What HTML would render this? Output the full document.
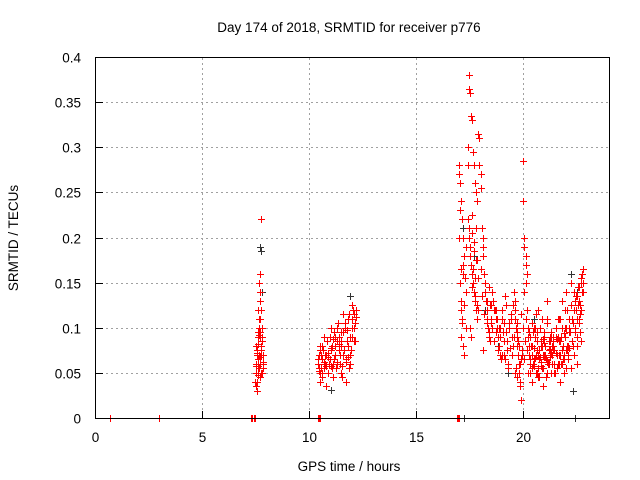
<!DOCTYPE html>
<html><head><meta charset="utf-8"><style>
body{margin:0;background:#fff}
svg{display:block;font-family:"Liberation Sans",sans-serif}
#redpts path,#blackpts path{shape-rendering:crispEdges}
</style></head><body>
<svg id="chart" width="640" height="480" viewBox="0 0 640 480" xmlns="http://www.w3.org/2000/svg">
<rect width="640" height="480" fill="#fff"/>
<text x="349" y="32" font-size="13.5" text-anchor="middle">Day 174 of 2018, SRMTID for receiver p776</text>
<text x="349" y="471" font-size="13.5" text-anchor="middle">GPS time / hours</text>
<text transform="translate(18,238) rotate(-90)" font-size="13.5" text-anchor="middle">SRMTID / TECUs</text>
<g id="grid"></g>
<g id="ticks"></g>
<g id="blackpts"></g>
<g id="redpts"></g>
<rect x="95.5" y="57.5" width="514" height="361" fill="none" stroke="#000" stroke-width="1"/>
</svg>
<script>
const xTicks=[0,5,10,15,20];
const yTicks=[0,0.05,0.1,0.15,0.2,0.25,0.3,0.35,0.4];
const yTickLabels=["0","0.05","0.1","0.15","0.2","0.25","0.3","0.35","0.4"];
const zeroT=[0.7,3.0,7.3,7.35,7.4,7.45,10.4,10.45,10.5,16.9,16.95,17.0];
const blackT=[7.7,7.75,7.8,10.5,11.0,11.9,17.2,17.7,18.2,18.8,19.3,20.5,21.6,22.2,22.3,22.5,17.25,22.4];
const blackV=[0.19,0.185,0.14,0.08,0.031,0.135,0.21,0.18,0.12,0.08,0.05,0.11,0.06,0.16,0.03,0.14,0,0];
const redT=[
7.45,7.5,7.5,7.55,7.6,7.6,7.65,7.7,7.7,7.75,7.8,7.8,7.85,7.5,7.55,7.6,7.65,7.7,7.75,7.8,7.85,7.7,7.75,7.65,7.7,7.6,7.8,7.72,7.68,7.58,7.62,7.66,7.74,7.55,
10.4,10.45,10.5,10.5,10.55,10.6,10.6,10.65,10.7,10.75,10.8,10.85,10.9,10.95,11.0,11.0,11.05,11.1,11.15,11.2,11.2,11.25,11.3,11.35,11.4,11.45,11.5,11.5,11.55,11.6,11.65,11.7,11.75,11.8,11.85,11.9,11.95,12.0,12.05,12.1,12.15,12.2,10.5,10.7,10.9,11.1,11.3,11.5,11.7,11.9,12.1,10.6,10.8,11.0,11.4,11.8,12.0,11.6,11.2,10.45,10.55,
17.0,17.0,17.05,17.05,17.1,17.1,17.1,17.15,17.15,17.2,17.2,17.25,17.25,17.3,17.3,17.0,17.1,17.2,17.3,
17.4,17.45,17.45,17.5,17.5,17.55,17.55,17.6,17.6,17.65,17.65,17.7,17.7,17.75,17.75,17.8,17.8,17.85,17.85,17.4,17.5,17.6,17.7,17.8,17.9,17.45,17.55,17.65,17.75,17.85,
17.9,17.95,17.95,18.0,18.0,18.05,18.1,18.1,18.15,18.2,18.2,18.25,18.3,18.3,18.35,18.4,18.4,18.45,18.5,18.5,18.1,
18.55,18.6,18.65,18.7,18.75,18.8,18.85,18.9,18.95,19.0,19.05,19.1,19.15,19.2,19.25,19.3,19.35,19.4,19.45,19.5,18.7,18.9,19.1,19.3,
19.55,19.6,19.6,19.65,19.7,19.7,19.75,19.8,19.8,19.85,19.85,19.9,19.6,19.7,19.75,19.9,19.95,19.65,
20.0,20.0,20.05,20.05,20.1,20.1,20.15,20.1,20.05,20.15,20.2,20.2,20.25,20.25,20.3,20.3,
20.35,20.4,20.45,20.5,20.55,20.6,20.65,20.7,20.75,20.8,20.85,20.9,20.95,21.0,21.05,21.1,21.15,21.2,21.25,21.3,21.35,21.4,21.45,21.5,20.4,20.5,20.6,20.7,20.8,20.9,21.0,21.1,21.2,21.3,21.4,20.45,20.65,20.85,21.05,21.25,20.55,20.75,20.95,21.15,21.35,
21.55,21.6,21.65,21.7,21.75,21.8,21.85,21.9,21.95,22.0,22.05,22.1,22.15,22.2,22.25,21.6,21.7,21.8,21.9,22.0,22.1,22.2,21.65,21.75,21.85,21.95,22.05,22.15,
22.3,22.35,22.4,22.45,22.5,22.5,22.55,22.6,22.6,22.65,22.7,22.7,22.75,22.75,22.8,22.8,22.4,22.5,22.6,22.7,22.65,22.55,22.45,22.35];
const redV=[
0.04,0.06,0.08,0.07,0.09,0.05,0.07,0.06,0.11,0.08,0.10,0.05,0.07,0.035,0.03,0.12,0.15,0.16,0.22,0.09,0.06,0.13,0.075,0.055,0.045,0.065,0.085,0.095,0.14,0.072,0.058,0.092,0.05,0.04,
0.06,0.07,0.05,0.08,0.055,0.065,0.045,0.075,0.09,0.06,0.07,0.085,0.05,0.065,0.1,0.075,0.08,0.06,0.095,0.07,0.09,0.055,0.085,0.105,0.075,0.06,0.095,0.08,0.045,0.07,0.1,0.065,0.085,0.11,0.055,0.09,0.075,0.1,0.12,0.115,0.105,0.12,0.04,0.055,0.072,0.045,0.062,0.05,0.04,0.06,0.085,0.045,0.035,0.058,0.082,0.068,0.125,0.115,0.09,0.052,0.07,
0.27,0.2,0.26,0.15,0.24,0.13,0.09,0.22,0.11,0.2,0.08,0.18,0.07,0.14,0.1,0.28,0.12,0.17,0.19,
0.3,0.365,0.2,0.36,0.19,0.335,0.17,0.33,0.16,0.295,0.15,0.28,0.14,0.26,0.13,0.25,0.12,0.24,0.11,0.22,0.1,0.205,0.185,0.175,0.155,0.38,0.09,0.165,0.135,0.125,
0.315,0.31,0.28,0.27,0.255,0.21,0.2,0.18,0.16,0.15,0.14,0.13,0.12,0.11,0.1,0.145,0.09,0.085,0.125,0.105,0.075,
0.14,0.13,0.12,0.11,0.1,0.09,0.08,0.07,0.065,0.11,0.095,0.085,0.135,0.125,0.075,0.06,0.105,0.115,0.09,0.08,0.12,0.1,0.07,0.055,
0.14,0.12,0.11,0.1,0.09,0.08,0.07,0.06,0.05,0.04,0.035,0.02,0.13,0.095,0.085,0.065,0.075,0.055,
0.285,0.24,0.2,0.19,0.18,0.17,0.16,0.15,0.14,0.12,0.1,0.09,0.08,0.07,0.06,0.05,
0.08,0.07,0.06,0.1,0.09,0.05,0.075,0.12,0.065,0.085,0.055,0.07,0.095,0.08,0.045,0.11,0.06,0.075,0.09,0.05,0.07,0.085,0.06,0.1,0.04,0.065,0.115,0.055,0.08,0.035,0.07,0.13,0.06,0.09,0.075,0.095,0.05,0.11,0.065,0.085,0.1,0.045,0.07,0.06,0.08,0.055,
0.09,0.07,0.11,0.06,0.13,0.08,0.05,0.1,0.075,0.12,0.065,0.095,0.15,0.085,0.06,0.04,0.1,0.07,0.14,0.08,0.055,0.11,0.09,0.065,0.12,0.075,0.1,0.08,
0.07,0.1,0.12,0.09,0.08,0.145,0.11,0.13,0.095,0.155,0.12,0.16,0.14,0.15,0.165,0.13,0.06,0.105,0.085,0.115,0.125,0.135,0.14,0.09];
const redT2=[
7.52,7.57,7.63,7.67,7.73,7.78,7.82,7.53,7.6,7.69,7.76,7.64,7.71,7.59,7.83,7.77,
10.42,10.48,10.52,10.58,10.62,10.68,10.72,10.78,10.82,10.88,10.92,10.98,11.02,11.08,11.12,11.18,11.22,11.28,11.32,11.38,11.42,11.48,11.52,11.58,11.62,11.68,11.72,11.78,11.82,11.88,11.92,11.98,12.02,12.08,12.12,12.18,
17.02,17.08,17.12,17.18,17.22,17.28,17.42,17.48,17.52,17.58,17.62,17.68,17.72,17.78,17.82,17.88,18.02,18.08,18.12,18.18,18.22,18.28,18.32,18.38,18.42,18.48,18.52,18.58,18.62,18.68,18.72,18.78,
18.82,18.88,18.92,18.98,19.02,19.08,19.12,19.18,19.22,19.28,19.32,19.38,19.42,19.48,19.52,19.58,19.62,19.68,19.72,19.78,19.82,19.88,19.92,19.98,
20.02,20.08,20.12,20.18,20.22,20.28,20.32,20.38,20.42,20.48,20.52,20.58,20.62,20.68,20.72,20.78,20.82,20.88,20.92,20.98,21.02,21.08,21.12,21.18,21.22,21.28,21.32,21.38,21.42,21.48,21.52,21.58,21.62,21.68,21.72,21.78,21.82,21.88,21.92,21.98,22.02,22.08,22.12,22.18,22.22,22.28,22.32,22.38,22.42,22.48,22.52,22.58,22.62,22.68,22.72,22.78,
20.32,20.48,20.62,20.78,20.92,21.08,21.22,21.38,21.52,21.68,21.82,21.98,22.12,22.28,20.38,20.52,20.68,20.82,20.98,21.12,21.28,21.42,21.58,21.72,21.88,22.02];
const redV2=[
0.05,0.075,0.095,0.11,0.07,0.085,0.062,0.058,0.048,0.09,0.08,0.1,0.068,0.082,0.055,0.12,
0.065,0.055,0.075,0.05,0.08,0.062,0.07,0.058,0.085,0.068,0.06,0.09,0.078,0.055,0.088,0.065,0.08,0.1,0.06,0.09,0.07,0.085,0.058,0.095,0.075,0.105,0.062,0.098,0.08,0.115,0.07,0.11,0.09,0.1,0.085,0.112,
0.23,0.165,0.105,0.16,0.125,0.155,0.28,0.21,0.18,0.145,0.225,0.195,0.155,0.21,0.175,0.12,0.165,0.135,0.19,0.115,0.14,0.105,0.13,0.095,0.125,0.11,0.1,0.13,0.085,0.12,0.095,0.11,
0.075,0.1,0.09,0.12,0.07,0.105,0.065,0.095,0.085,0.06,0.1,0.078,0.11,0.07,0.125,0.09,0.05,0.105,0.045,0.08,0.06,0.115,0.07,0.1,
0.065,0.085,0.11,0.075,0.05,0.095,0.065,0.08,0.105,0.058,0.09,0.07,0.085,0.045,0.075,0.1,0.062,0.08,0.055,0.09,0.07,0.105,0.05,0.085,0.068,0.095,0.06,0.08,0.075,0.05,0.09,0.07,0.11,0.06,0.085,0.075,0.1,0.065,0.09,0.055,0.08,0.07,0.11,0.095,0.125,0.085,0.105,0.12,0.095,0.135,0.11,0.145,0.125,0.15,0.16,0.14,
0.09,0.078,0.095,0.068,0.088,0.062,0.076,0.09,0.072,0.085,0.06,0.1,0.078,0.11,0.055,0.066,0.07,0.058,0.083,0.064,0.072,0.05,0.088,0.07,0.094,0.08];
const X=t=>95+t*21.42, Y=v=>418-v*902.5;
const NS='http://www.w3.org/2000/svg';
const grid=document.getElementById('grid'),ticks=document.getElementById('ticks');
function mk(tag,attrs,parent){const e=document.createElementNS(NS,tag);for(const k in attrs)e.setAttribute(k,attrs[k]);parent.appendChild(e);return e;}
xTicks.forEach(t=>{const x=Math.round(X(t))+0.5;
 if(t>0){const g=mk('line',{x1:x,x2:x,y1:58,y2:418,stroke:'#a0a0a0','stroke-dasharray':'2,3'},grid);
 
 }
 const tk=mk('line',{x1:x,x2:x,y1:418,y2:411,stroke:'#000'},ticks);
 
 
 const lb=mk('text',{x:x,y:442,'font-size':'13.5','text-anchor':'middle'},ticks);lb.textContent=t;
 
 });
yTicks.forEach((v,i)=>{const y=Math.round(Y(v))+0.5;
 if(v>0&&v<0.4){const g=mk('line',{x1:96,x2:609,y1:y,y2:y,stroke:'#a0a0a0','stroke-dasharray':'2,3'},grid);
 
 }
 const tk=mk('line',{x1:96,x2:103,y1:y,y2:y,stroke:'#000'},ticks);
 
 
 const lb=mk('text',{x:81,y:y+5,'font-size':'13.5','text-anchor':'end'},ticks);lb.textContent=yTickLabels[i];
 
 });
function plus(t,v,col,parent){const x=Math.round(X(t))+0.5,y=Math.round(Y(v))+0.5;
 const p=mk('path',{d:`M${x-3.5} ${y}H${x+3.5}M${x} ${y-3.5}V${y+3.5}`,stroke:col,'stroke-width':'1',fill:'none'},parent);
 
 }
const bp=document.getElementById('blackpts'),rp=document.getElementById('redpts');
blackT.forEach((t,i)=>plus(t,blackV[i],'#333',bp));
redT.forEach((t,i)=>plus(t,redV[i],'#f00',rp));
redT2.forEach((t,i)=>plus(t,redV2[i],'#f00',rp));
zeroT.forEach(t=>plus(t,0,'#f00',rp));
</script>
</body></html>
